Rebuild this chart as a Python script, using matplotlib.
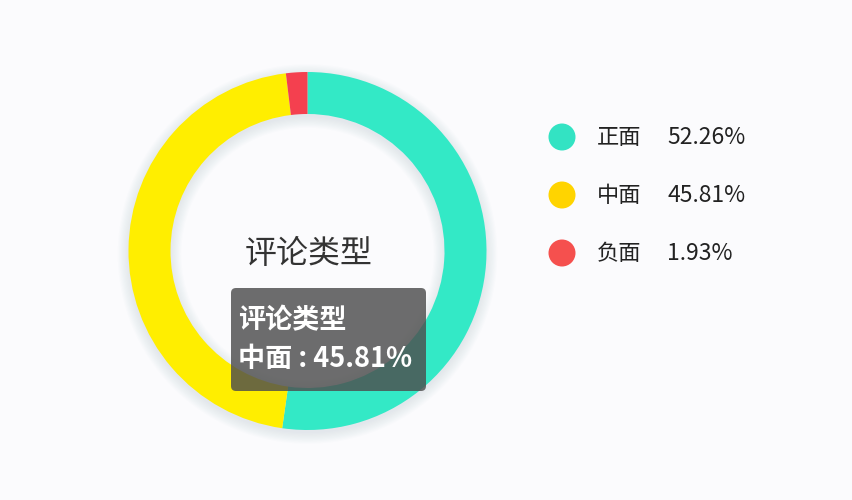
import numpy as np
import matplotlib
matplotlib.use("Agg")
import matplotlib.pyplot as plt
from matplotlib.patches import FancyBboxPatch, Circle, Wedge

plt.rcParams["font.family"] = ["Noto Sans CJK SC", "DejaVu Sans"]

labels = ["正面", "中面", "负面"]
values = [52.26, 45.81, 1.93]
ring_colors = ["#33E9C6", "#FFEE00", "#F4404F"]
dot_colors = ["#33E3C3", "#FFD400", "#F5504E"]
title = "评论类型"
tip_label = "中面"

W, H = 852, 500
BG = "#FBFBFD"

fig = plt.figure(figsize=(W / 100, H / 100), dpi=100)
fig.patch.set_facecolor(BG)
ax = fig.add_axes([0, 0, 1, 1])
ax.set_facecolor(BG)

cx, cy = 307.5, H - 251
r_out, width = 179, 42

# soft shadow around ring
for k in range(10):
    grow = 1.2 * k
    ax.add_patch(Wedge((cx, cy - 3), r_out + grow, 0, 360,
                       width=width + 2 * grow,
                       facecolor="#7080B0", edgecolor="none",
                       alpha=0.015, zorder=1))

ax.pie(values, colors=ring_colors, startangle=90, counterclock=False,
       center=(cx, cy), radius=r_out,
       wedgeprops=dict(width=width, edgecolor="none", linewidth=0),
       frame=True)

ax.text(cx + 1, H - 254, title, ha="center", va="center",
        fontsize=23, color="#333333", zorder=5)

# tooltip
tip = FancyBboxPatch((231, H - 391), 195, 103,
                     boxstyle="round,pad=0,rounding_size=5",
                     facecolor=(0.3, 0.3, 0.3, 0.82),
                     edgecolor="none", zorder=6)
ax.add_patch(tip)
ax.text(238, H - 320, title, ha="left", va="center",
        fontsize=19.5, color="white", fontweight="bold", zorder=7)
idx = labels.index(tip_label)
ax.text(238, H - 359, f"{tip_label} : {values[idx]:.2f}%", ha="left",
        va="center", fontsize=19.5, color="white", fontweight="bold",
        zorder=7)

# legend
ly = [137, 195, 253]
for lab, val, col, y in zip(labels, values, dot_colors, ly):
    ax.add_patch(Circle((562, H - y), 13.5, facecolor=col,
                        edgecolor="none", zorder=5))
    ax.text(597, H - y, lab, ha="left", va="center",
            fontsize=16, color="#222222", zorder=5)
    ax.text(667, H - y, f"{val:.2f}%", ha="left", va="center",
            fontsize=16.5, color="#222222", zorder=5)

ax.set_xlim(0, W)
ax.set_ylim(0, H)
ax.set_aspect("equal")
ax.axis("off")

fig.savefig("out.png", dpi=100, facecolor=BG)
